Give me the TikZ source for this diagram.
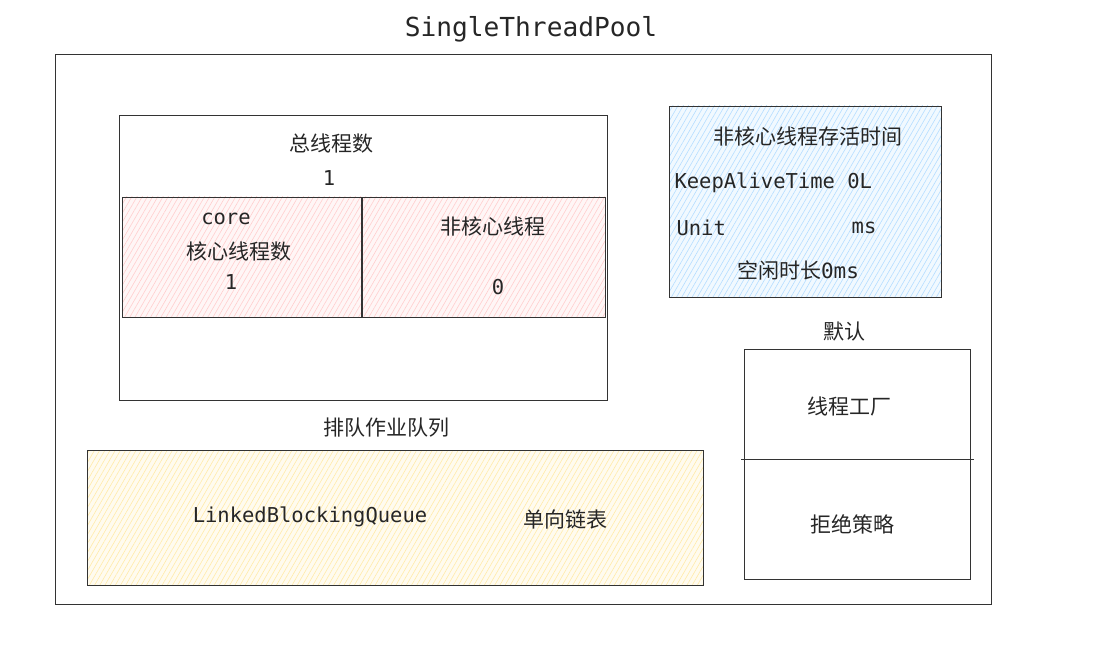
\documentclass[tikz,border=0pt]{standalone}
\usepackage{fontspec}
\setmonofont{DejaVu Sans Mono}
\newfontfamily\cjk{Noto Sans CJK SC}
\usepackage{tikz}
\usetikzlibrary{patterns.meta}
\usepackage{xcolor}
\definecolor{hpink}{HTML}{FFB3B3}
\definecolor{hblue}{HTML}{8CCBFF}
\definecolor{hyellow}{HTML}{FFE17A}

\tikzset{
  box/.style={draw=black!80, line width=0.8pt},
  hach/.style={pattern={Lines[angle=60,distance=4.5pt,line width=0.6pt]}, pattern color=#1},
  zh/.style={font=\cjk\fontsize{21}{25}\selectfont, text=black!85},
  en/.style={font=\ttfamily\fontsize{20.5}{25}\selectfont, text=black!85},
}

\begin{document}
\begin{tikzpicture}[x=1pt, y=-1pt]
    \useasboundingbox (0,0) rectangle (1101,650);
    % 标题与外框
    \node[en, font=\ttfamily\fontsize{26.2}{31}\selectfont] (title) at (531,29) {SingleThreadPool};
    \draw[box] (55,54) rectangle (991,604);

    % 总线程数
    \draw[box] (119,115) rectangle (607,400);
    \node[zh] (total) at (331,144) {总线程数};
    \node[en] (totalnum) at (329,178) {1};
    % 核心线程
    \fill[hpink!12] (122,197) rectangle (361,317);
    \draw[box, hach=hpink!65] (122,197) rectangle (361,317);
    \node[en] (core) at (226,219) {core};
    \node[zh] (corelbl) at (239,252) {核心线程数};
    \node[en] (corenum) at (231,282) {1};
    % 非核心线程
    \fill[hpink!12] (362,197) rectangle (605,317);
    \draw[box, hach=hpink!65] (362,197) rectangle (605,317);
    \node[zh] (noncore) at (493,226) {非核心线程};
    \node[en] (noncorenum) at (498,287) {0};

    % 存活时间
    \fill[hblue!12] (669,106) rectangle (941,297);
    \draw[box, hach=hblue!65] (669,106) rectangle (941,297);
    \node[zh] (alive) at (808,136) {非核心线程存活时间};
    \node[en, anchor=west] (keep) at (671,183) {KeepAliveTime 0L};
    \node[en, anchor=west] (unit) at (673,228) {Unit};
    \node[en] (ms) at (864,228) {ms};
    \node[zh] (idle) at (798,270) {空闲时长\texttt{0ms}};

    % 默认
    \node[zh] (default) at (844,332) {默认};
    \draw[box] (744,349) rectangle (970,579);
    \draw[box] (741,459) -- (974,459);
    \node[zh] (factory) at (849,406) {线程工厂};
    \node[zh] (reject) at (852,524) {拒绝策略};

    % 队列
    \node[zh] (queue) at (386,428) {排队作业队列};
    \fill[hyellow!12] (87,450) rectangle (703,585);
    \draw[box, hach=hyellow!65] (87,450) rectangle (703,585);
    \node[en] (lbq) at (310,517) {LinkedBlockingQueue};
    \node[zh] (list) at (565,519) {单向链表};
\end{tikzpicture}
\end{document}
